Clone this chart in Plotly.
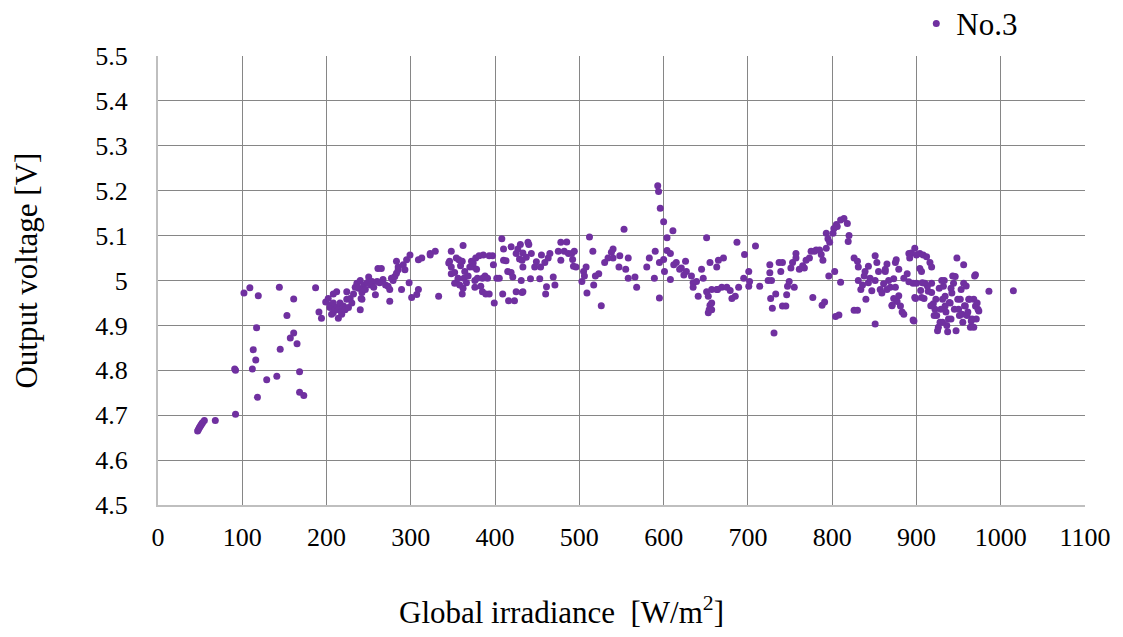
import plotly.graph_objects as go

# ---- data (Global irradiance [W/m2], Output voltage [V]) ----
irr_low = [47, 48, 49, 50, 51, 52, 53, 55, 68, 92,
           91, 92, 102, 109, 112, 113, 116, 117, 118, 119,
           129, 141, 144, 145, 153, 157, 161, 161, 165, 168,
           168, 173, 187, 191, 194, 199]
volt_low = [4.665, 4.668, 4.672, 4.675, 4.678, 4.681, 4.684, 4.688, 4.688, 4.702,
            4.803, 4.800, 4.972, 4.984, 4.803, 4.846, 4.823, 4.895, 4.740, 4.966,
            4.779, 4.787, 4.985, 4.847, 4.922, 4.872, 4.883, 4.959, 4.859, 4.797,
            4.751, 4.744, 4.984, 4.930, 4.916, 4.952]

irr_b = [202, 204, 205, 206, 208, 208, 208, 210, 212, 212,
         214, 214, 216, 218, 218, 220, 222, 224, 224, 226,
         228, 230, 232, 234, 236, 238, 240, 240, 241, 242,
         242, 244, 246, 248, 250, 252, 254, 256, 258, 260,
         261, 263, 265, 267, 270, 273, 275, 275, 277, 279,
         281, 283, 283, 285, 285, 289, 291, 293, 295, 299,
         298, 301, 307, 309, 309, 313, 323, 323, 329, 333]
volt_b = [4.960, 4.940, 4.945, 4.925, 4.970, 4.950, 4.928, 4.935, 4.975, 4.940,
          4.916, 4.935, 4.950, 4.925, 4.930, 4.943, 4.935, 4.958, 4.975, 4.940,
          4.960, 4.950, 4.970, 4.985, 4.994, 4.983, 5.000, 4.935, 4.960, 4.973,
          4.958, 4.990, 4.980, 4.995, 5.008, 4.990, 4.998, 4.985, 4.968, 4.998,
          5.027, 4.995, 5.027, 5.002, 4.990, 4.987, 4.980, 4.954, 5.005, 5.000,
          5.009, 5.043, 5.016, 5.024, 5.030, 4.980, 5.035, 5.024, 5.046, 5.057,
          4.995, 4.962, 4.969, 4.980, 5.046, 5.050, 5.057, 5.060, 5.065, 4.965]

irr_c = [345, 346, 348, 348, 348, 352, 352, 354, 354, 356,
         357, 358, 359, 361, 362, 362, 363, 364, 366, 368,
         370, 361, 372, 374, 374, 376, 376, 377, 378, 379,
         381, 383, 385, 385, 386, 388, 389, 391, 393, 393,
         397, 398, 399, 402, 405, 408, 410, 410, 409, 413,
         415, 416, 419, 419, 421, 423, 425, 425, 427, 429,
         430, 431, 433, 433, 437, 440]
volt_c = [5.039, 5.043, 5.065, 5.030, 5.015, 5.018, 4.994, 5.050, 4.995, 5.005,
          5.046, 4.990, 5.033, 5.043, 5.078, 4.983, 5.005, 5.020, 4.995, 5.010,
          5.030, 4.970, 5.043, 5.030, 5.039, 4.985, 5.000, 5.050, 5.025, 5.005,
          5.055, 4.987, 5.005, 4.975, 5.057, 5.010, 4.970, 5.005, 4.970, 5.055,
          5.055, 5.035, 4.950, 5.005, 5.005, 5.093, 5.070, 5.045, 4.970, 5.044,
          5.020, 4.955, 5.075, 5.018, 5.008, 4.955, 5.060, 4.975, 5.070, 5.048,
          5.080, 5.000, 5.030, 4.975, 5.052, 5.080]

irr_d = [433, 432, 432, 439, 442, 443, 447, 449, 453, 454,
         455, 459, 460, 461, 463, 465, 469, 471, 475, 478,
         478, 482, 485, 487, 491, 492, 493, 494, 496, 503,
         505, 506, 508, 509, 512, 516, 517, 519, 523, 526,
         530, 534, 538, 540, 540, 547, 548, 553, 555, 558,
         558, 566, 568, 580, 583, 589, 590, 593, 594, 595,
         595, 596, 600, 600, 601, 604, 604, 608, 608, 611,
         612, 615, 619, 621, 624, 626, 627, 633, 635, 635,
         639, 641, 645, 647, 651, 651, 653, 655, 654, 653,
         663, 664]
volt_d = [5.061, 5.045, 4.973, 5.085, 5.004, 5.060, 5.030, 5.042, 5.004, 5.030,
          5.057, 5.040, 4.970, 4.986, 5.050, 5.060, 5.008, 4.990, 5.065, 5.085,
          5.045, 5.065, 5.086, 5.060, 5.060, 5.047, 5.032, 5.065, 5.030, 4.998,
          5.020, 5.010, 5.030, 4.972, 5.097, 5.065, 4.990, 5.010, 5.015, 4.944,
          5.040, 5.050, 5.063, 5.070, 5.050, 5.030, 5.055, 5.114, 5.025, 5.050,
          5.005, 5.008, 4.985, 5.030, 5.050, 5.005, 5.065, 5.211, 5.198, 4.961,
          5.040, 5.161, 5.131, 5.047, 5.020, 5.095, 5.067, 5.060, 5.002, 5.111,
          5.035, 5.040, 5.025, 5.028, 5.012, 5.043, 5.020, 5.010, 4.995, 4.985,
          4.998, 4.965, 5.025, 5.005, 5.095, 4.975, 4.965, 4.945, 4.935, 4.928,
          5.030, 4.980]

irr_e = [657, 657, 657, 655, 665, 671, 663, 669, 675, 679,
         681, 685, 687, 689, 695, 696, 701, 701, 702, 709,
         714, 726, 726, 724, 728, 727, 729, 731, 733, 737,
         739, 741, 741, 745, 746, 747, 749, 751, 753, 755,
         757, 757, 761, 765, 767, 769, 773, 775, 779, 777,
         781, 785, 787, 788, 791, 789, 793, 793, 795, 797,
         796, 801, 802, 803, 804, 805, 806, 808, 810, 810,
         814, 818, 820, 819, 826, 830, 826, 830, 831, 831,
         834, 836, 838, 839, 840, 843, 843, 845, 847, 851,
         851, 851, 853, 855, 857, 859, 861, 863, 865, 867,
         869, 871, 873, 875, 875, 877, 879, 881, 883, 885,
         889, 891, 891]
volt_e = [4.980, 4.950, 4.935, 5.040, 5.045, 5.050, 4.980, 4.985, 4.985, 4.978,
          4.960, 4.965, 5.085, 4.985, 5.005, 5.058, 5.020, 4.987, 4.998, 5.077,
          4.987, 5.035, 5.017, 5.000, 5.000, 4.960, 4.938, 4.883, 4.970, 5.040,
          5.020, 5.040, 4.943, 4.943, 4.968, 4.987, 4.998, 5.028, 5.040, 4.985,
          5.060, 5.050, 5.025, 5.033, 5.028, 5.045, 5.050, 5.065, 5.065, 4.962,
          5.068, 5.068, 5.058, 4.945, 4.952, 5.045, 5.072, 5.105, 5.093, 5.085,
          5.010, 5.105, 5.116, 5.020, 4.920, 5.125, 5.120, 4.923, 4.996, 5.135,
          5.138, 5.127, 5.100, 5.087, 4.934, 4.934, 5.050, 5.043, 5.030, 5.000,
          4.980, 4.990, 5.010, 5.020, 4.958, 5.032, 4.995, 5.005, 4.977, 5.055,
          4.903, 5.000, 5.040, 5.020, 4.980, 4.972, 4.993, 5.020, 5.037, 5.000,
          4.985, 4.945, 4.960, 4.985, 5.040, 4.953, 5.025, 4.943, 4.930, 5.005,
          5.015, 5.060, 4.997]

irr_f = [894, 898, 900, 904, 908, 912, 916, 918, 904, 906,
         896, 900, 898, 906, 896, 910, 914, 918, 920, 922,
         924, 926, 928, 930, 932, 934, 934, 936, 938, 940,
         942, 944, 946, 948, 950, 952, 954, 956, 956, 958,
         960, 962, 964, 966, 968, 970, 970, 972, 974, 986,
         1015, 876, 892, 863, 873, 865, 879, 871, 885, 897,
         899, 905, 907, 909, 913, 917, 918, 921, 923, 925,
         927, 929, 931, 931, 933, 935, 937, 939, 941, 941,
         943, 945, 947, 949, 951, 953, 955, 957, 959, 961,
         963, 965, 968, 969, 971, 973]
volt_f = [5.061, 5.072, 5.057, 5.060, 5.057, 5.053, 5.040, 5.030, 5.027, 5.020,
          4.994, 4.994, 4.962, 4.962, 4.912, 4.994, 4.976, 4.994, 4.948, 4.936,
          4.922, 4.896, 4.907, 5.000, 4.987, 4.965, 4.943, 4.900, 4.914, 4.950,
          4.972, 4.994, 5.009, 5.050, 4.936, 4.958, 4.925, 5.035, 4.994, 4.943,
          4.922, 4.958, 4.896, 4.914, 4.958, 5.013, 4.943, 4.950, 4.932, 4.976,
          4.977, 5.046, 5.050, 5.025, 5.004, 4.980, 4.966, 4.944, 4.925, 4.910,
          4.960, 4.978, 4.995, 4.960, 4.988, 4.944, 4.973, 4.922, 4.958, 4.888,
          4.983, 4.936, 4.958, 4.907, 5.000, 4.930, 4.886, 4.951, 4.983, 4.914,
          5.010, 4.936, 4.888, 4.958, 4.922, 4.980, 4.907, 4.944, 4.988, 4.930,
          4.958, 4.910, 4.896, 5.010, 4.914, 4.936]

irradiance = irr_low + irr_b + irr_c + irr_d + irr_e + irr_f
voltage = volt_low + volt_b + volt_c + volt_d + volt_e + volt_f
n = min(len(irradiance), len(voltage))
irradiance, voltage = irradiance[:n], voltage[:n]

x_ticks = list(range(0, 1101, 100))
y_ticks = [4.5, 4.6, 4.7, 4.8, 4.9, 5.0, 5.1, 5.2, 5.3, 5.4, 5.5]
y_tick_text = ["4.5", "4.6", "4.7", "4.8", "4.9", "5", "5.1", "5.2", "5.3", "5.4", "5.5"]

FONT = "Liberation Serif"
PURPLE = "#7030A0"
GRID = "#868686"

fig = go.Figure()
fig.add_trace(go.Scatter(
    x=irradiance, y=voltage, mode="markers", name="No.3",
    marker=dict(color=PURPLE, size=7, line=dict(width=0)),
))

fig.update_layout(
    width=1123, height=637,
    margin=dict(l=158, r=38, t=56, b=132, autoexpand=False),
    paper_bgcolor="white", plot_bgcolor="white",
    font=dict(family=FONT, size=24, color="black"),
    showlegend=True,
    legend=dict(x=0.818, y=1.132, xanchor="left", yanchor="top",
                font=dict(family=FONT, size=31, color="black"),
                bgcolor="rgba(0,0,0,0)", itemwidth=30),
    xaxis=dict(range=[0, 1100], tickvals=x_ticks, showgrid=True,
               gridcolor=GRID, gridwidth=1, zeroline=False,
               showline=True, linecolor="#BFBFBF", linewidth=2,
               ticks="", ticklabelstandoff=8,
               tickfont=dict(family=FONT, size=26, color="black")),
    yaxis=dict(range=[4.5, 5.5], tickvals=y_ticks, ticktext=y_tick_text,
               showgrid=True, gridcolor=GRID, gridwidth=1, zeroline=False,
               showline=True, linecolor="#BFBFBF", linewidth=2,
               ticks="", ticklabelstandoff=23,
               tickfont=dict(family=FONT, size=26, color="black")),
    annotations=[
        dict(text="Global irradiance\u00a0\u00a0[W/m<sup>2</sup>]",
             xref="paper", yref="paper", x=0.435, y=-0.236, xanchor="center",
             yanchor="middle", showarrow=False,
             font=dict(family=FONT, size=31, color="black")),
        dict(text="Output voltage [V]", textangle=-90,
             xref="paper", yref="paper", x=-0.142, y=0.523, xanchor="center",
             yanchor="middle", showarrow=False,
             font=dict(family=FONT, size=31, color="black")),
    ],
)

fig.write_html("out.html")
